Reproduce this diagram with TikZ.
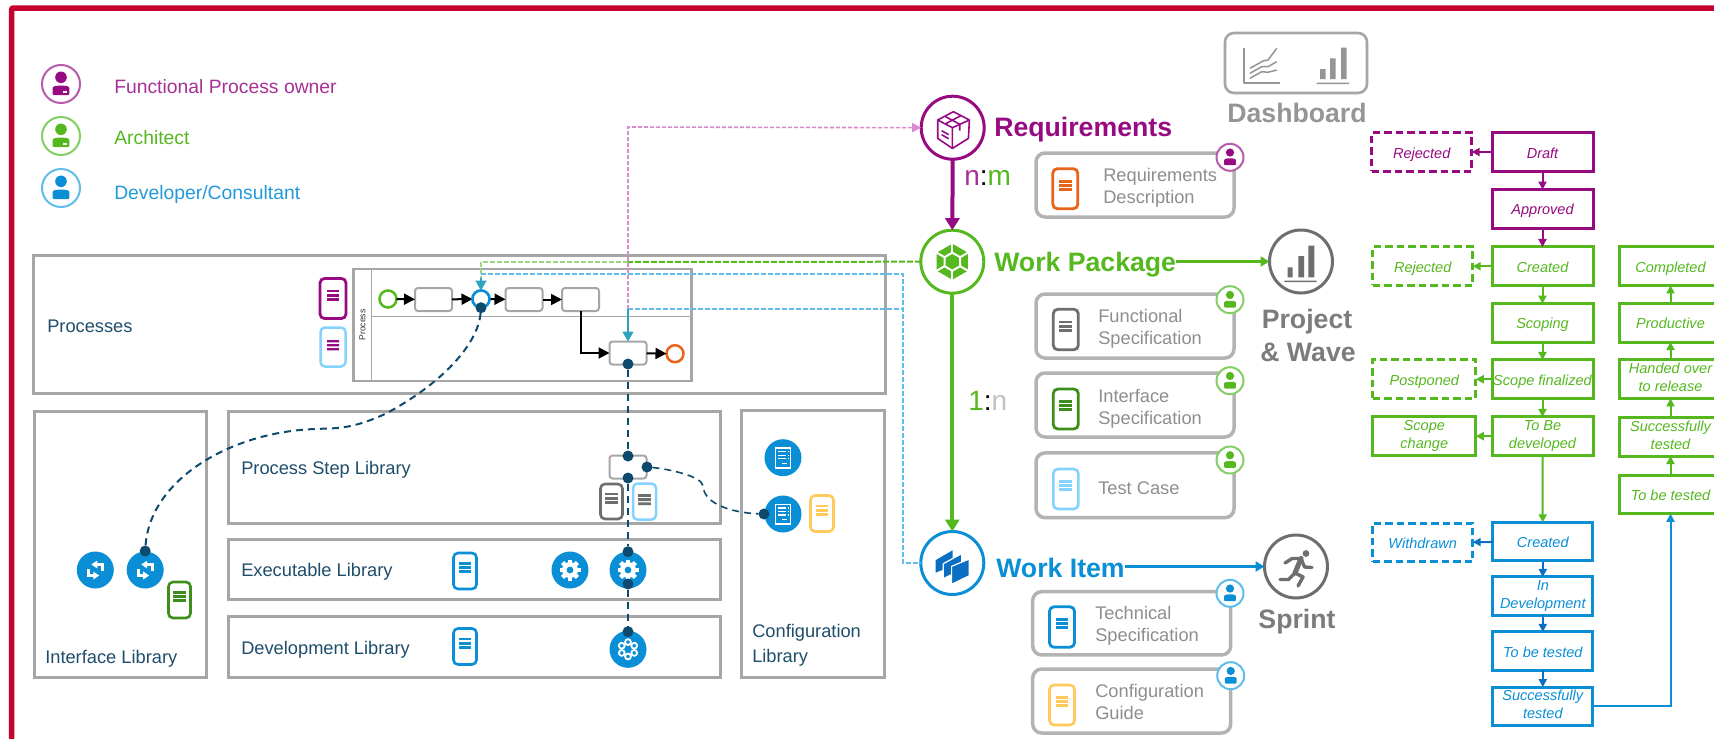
\documentclass[tikz,border=0pt]{standalone}
\usepackage{fontspec}
\setmainfont{Liberation Sans}
\usetikzlibrary{arrows.meta,calc}
\definecolor{fr}{HTML}{C4002E}
\definecolor{pu}{HTML}{960B82}
\definecolor{pul}{HTML}{B85BAA}
\definecolor{gr}{HTML}{55B81F}
\definecolor{grl}{HTML}{83CF63}
\definecolor{grd}{HTML}{3E8E1C}
\definecolor{bl}{HTML}{0A8FD6}
\definecolor{bll}{HTML}{5FBCEB}
\definecolor{bld}{HTML}{0A6FC2}
\definecolor{ltb}{HTML}{85D2FF}
\definecolor{org}{HTML}{E8641B}
\definecolor{yel}{HTML}{FFC95C}
\definecolor{gy}{HTML}{A6A6A6}
\definecolor{gyd}{HTML}{6E6E6E}
\definecolor{txg}{HTML}{8E8E8E}
\definecolor{dk}{HTML}{0E4A6E}
\definecolor{tl}{HTML}{2CA3BF}
\definecolor{pk}{HTML}{D88CCF}
\definecolor{lbl}{HTML}{1F4E6B}
\def\p#1{#1*0.75pt}
\tikzset{
  box/.style={draw=gy,line width=\p{3},minimum width=\p{#1},outer sep=0pt,inner sep=0pt},
  card/.style={draw=gy!85,line width=\p{3.5},rounded corners=\p{9},minimum width=\p{198},outer sep=0pt,inner sep=0pt},
  lab/.style={anchor=west,inner sep=0pt,text=lbl,font=\fontsize{13.7}{19}\selectfont,align=left},
  leg/.style={anchor=west,inner sep=0pt,font=\fontsize{14.5}{18}\selectfont},
  ctxt/.style={anchor=west,inner sep=0pt,text=txg,font=\fontsize{13.7}{16.2}\selectfont,align=left},
  head/.style={anchor=west,inner sep=0pt,font=\fontsize{20}{24}\bfseries\selectfont},
  gyhead/.style={inner sep=0pt,font=\fontsize{20}{24}\bfseries\selectfont,text=gyd!90},
  ring/.style={circle,draw=#1,fill=white,line width=\p{3},minimum size=\p{63},inner sep=0pt,outer sep=0pt},
  st/.style={draw=#1,line width=\p{3},minimum width=\p{101},minimum height=\p{38.5},inner sep=0pt,outer sep=0pt,
     text=#1,font=\fontsize{10.9}{13.5}\itshape\selectfont,align=center,
     execute at begin node={\rule[-3pt]{0pt}{15pt}}},
  dsh/.style={dash pattern=on \p{7.5} off \p{4}},
  arr/.style={draw=#1,line width=\p{2},-{Triangle[length=\p{8},width=\p{8},fill=#1]}},
  tsk/.style={draw=gy,fill=white,line width=\p{2},rounded corners=\p{3},minimum width=\p{37},minimum height=\p{23},inner sep=0pt,outer sep=0pt},
  evt/.style={circle,draw=#1,fill=white,line width=\p{2.5},minimum size=\p{17},inner sep=0pt,outer sep=0pt},
  flow/.style={draw=black,line width=\p{2},-{Triangle[length=\p{11},width=\p{11},fill=black]}},
  dot/.style={circle,fill=dk,minimum size=\p{11},inner sep=0pt,outer sep=0pt},
  blob/.style={circle,fill=bl,minimum size=\p{37},inner sep=0pt,outer sep=0pt},
  dlink/.style={draw=dk,line width=\p{2},dash pattern=on \p{7} off \p{5}},
  bld/.style={draw=bll,line width=\p{1.6},dash pattern=on \p{5} off \p{2}},
}
% doc icon: name,x,y,w,h,colour,linewidth
\newcommand\DocI[7]{%
  \node[draw=#6,fill=white,line width=\p{#7},rounded corners=\p{4.5},minimum width=\p{#4},minimum height=\p{#5},inner sep=0pt,outer sep=0pt] (#1) at (#2,#3) {};
  \begin{scope}[shift={(#2,#3)},#6]
    \fill[#6] (-6.4,-9) rectangle (6.4,-6.2);
    \fill[#6] (-6.4,-4.8) rectangle (6.4,-2);
    \fill[#6] (-6.4,-.6) rectangle (6.4,2.2);
  \end{scope}}
% person: name,x,y,r,ring,fill
\newcommand\PersonI[6]{%
  \node[circle,draw=#5,fill=white,line width=\p{2},minimum size=\p{2*#4},inner sep=0pt,outer sep=0pt] (#1) at (#2,#3) {};
  \begin{scope}[shift={(#2,#3)},scale=#4/19]
    \fill[#6] (0,-6.7) circle (5.8);
    \fill[#6,rounded corners=\p{1}] (-8.3,11) -- (-8.3,5) .. controls (-8.3,2) and (-4,1.5) .. (0,1.5) .. controls (4,1.5) and (8.3,2) .. (8.3,5) -- (8.3,11) -- cycle;
  \end{scope}}
\newcommand\GearI[1]{%
  \begin{scope}[shift={(#1)}]
    \foreach \a in {0,45,...,315}{\fill[white,rotate=\a] (-2.2,-10.5) rectangle (2.2,-6);}
    \fill[white] (0,0) circle (8);
    \fill[bl] (0,0) circle (3.4);
  \end{scope}}
\newcommand\SyncI[1]{%
  \begin{scope}[shift={(#1)},white,line width=\p{2.6}]
    \draw[-{Triangle[length=\p{6},width=\p{7.5},fill=white]}] (7,1) -- (7,-5.5) -- (-4,-5.5);
    \draw[-{Triangle[length=\p{6},width=\p{7.5},fill=white]}] (-7,-1) -- (-7,5.5) -- (4,5.5);
  \end{scope}}
\newcommand\CfgI[1]{%
  \begin{scope}[shift={(#1)},white]
    \draw[white,line width=\p{1.6}] (-7.5,-9.5) rectangle (7.5,10);
    \draw[white,line width=\p{1.3}] (-5,-6) -- (3,-6) (4.5,-6)--(5.5,-6) (-5,-2.5) -- (3,-2.5) (4.5,-2.5)--(5.5,-2.5) (-5,1) -- (3,1) (4.5,1)--(5.5,1) (-1,5.5)--(4,5.5);
  \end{scope}}
\begin{document}
\begin{tikzpicture}[x=0.75pt,y=-0.75pt]
\useasboundingbox (0,0) rectangle (1714,739);
\clip (0,0) rectangle (1714,739);
\fill[white] (0,0) rectangle (1714,739);
% frame
\coordinate (frA) at (11.5,745);
\coordinate (frB) at (11.5,8);
\coordinate (frC) at (1720,8);
\draw[fr,line width=\p{5.5},rounded corners=\p{2}] (frA) -- (frB) -- (frC);
% legend
\PersonI{lgP}{61}{84}{19}{pul}{pu}
\fill[white] (63,90.5) rectangle (67,92.5);
\PersonI{lgA}{61}{136}{19}{grl}{gr}
\fill[white] (63,142.5) rectangle (67,144.5);
\PersonI{lgD}{61}{188}{19}{bll}{bl}
\node[leg,text=pu!85] (tP) at (114,87) {Functional Process owner};
\node[leg,text=gr] (tA) at (114,138) {Architect};
\node[leg,text=bl!90] (tD) at (114,194) {Developer/Consultant};
% library boxes
\node[box=852,minimum height=\p{138}] (procB) at (459,324.5) {};
\node[box=172,minimum height=\p{266}] (ifB) at (120.5,544) {};
\node[box=492,minimum height=\p{112}] (stepB) at (474,467) {};
\node[box=492,minimum height=\p{60}] (exeB) at (474,569) {};
\node[box=492,minimum height=\p{61}] (devB) at (474,646.5) {};
\node[box=143,minimum height=\p{267}] (cfgB) at (812.5,543.5) {};
\node[lab] (tProc) at (47,326) {Processes};
\node[lab] (tIf) at (45,659) {Interface Library};
\node[lab] (tStep) at (241,470) {Process Step Library};
\node[lab] (tExe) at (241,572) {Executable Library};
\node[lab] (tDev) at (241,650) {Development Library};
\node[lab] (tCfg) at (752,645.5) {Configuration\\Library};
% process pool
\node[draw=gy,line width=\p{2.5},minimum width=\p{338},minimum height=\p{112},inner sep=0pt,outer sep=0pt] (pool) at (522.5,325) {};
\coordinate (hdT) at (371.4,269);
\coordinate (hdB) at (371.4,381);
\coordinate (lnL) at (371.4,316.7);
\coordinate (lnR) at (691.4,316.7);
\draw[gy,line width=\p{1.6}] (hdT) -- (hdB);
\draw[gy,line width=\p{1.2}] (lnL) -- (lnR);
\node[rotate=90,inner sep=0pt,font=\fontsize{6.5}{8}\selectfont,text=black!80] (tPool) at (362.5,325) {Process};
\DocI{dP1}{333}{298.5}{26}{40}{pu}{2.8}
\DocI{dP2}{333}{347}{25}{39}{ltb}{2.5}
\fill[white] (326,338) rectangle (340,352);
\fill[pu] (327,340) rectangle (339,342.4) (327,344) rectangle (339,346.4) (327,348) rectangle (339,350.4);
% colored dashed links
\coordinate (gA) at (628,262);
\coordinate (gB) at (481,262);
\coordinate (bA) at (481,274);
\coordinate (bB) at (903,274);
\coordinate (bC) at (903,563);
\coordinate (bD) at (628,309);
\coordinate (bE) at (903,309);
\coordinate (pkC) at (628,127);
\node[ring=pu] (req) at (952.7,127.7) {};
\node[ring=gr] (wp) at (952.3,261.7) {};
\node[ring=bl] (wi) at (952.3,563) {};
\draw[draw=grl!80,line width=\p{2},dash pattern=on \p{5} off \p{2}] (gA) -- (gB) -- ++(0,24);
\draw[gr,line width=\p{2},dash pattern=on \p{6} off \p{2}] (wp.west) -- (gA);
\draw[bld] (bA) -- (bB) -- (bC) -- (wi.west);
\draw[bld] (bD) -- (bE);
% process flow
\node[evt=gr] (ev0) at (388,299) {};
\node[tsk] (t1) at (433.5,299.5) {};
\node[evt=bl] (ev1) at (481,299) {};
\node[tsk] (t2) at (524,299.5) {};
\node[tsk] (t3) at (580.5,299.5) {};
\node[tsk] (t4) at (628,353) {};
\node[evt=org] (ev2) at (675,353.7) {};
\draw[flow] (ev0) -- (t1);
\draw[flow] (t1) -- (ev1);
\draw[flow] (ev1) -- (t2);
\draw[flow] (t2) -- (t3);
\draw[flow] (t3.south) |- (t4.west);
\draw[flow] (t4) -- (ev2);
\node[evt=bl] (ev1b) at (481,299) {};
\draw[pk,line width=\p{1.6},dash pattern=on \p{4} off \p{2},-{Triangle[length=\p{9},width=\p{9},fill=pk]}] (628,309) -- (pkC) -- (req.west);
\draw[tl,line width=\p{1.6},-{Triangle[length=\p{10},width=\p{11},fill=tl]}] (bD) -- (t4.north);
\coordinate (tlB) at (481,278);
\draw[tl,line width=\p{1.6},-{Triangle[length=\p{10},width=\p{11},fill=tl]}] (tlB) -- (ev1.north);
% libraries content
\node[tsk] (s1) at (628,467) {};
\DocI{dS1}{611.5}{501.5}{22}{35}{gyd}{2.6}
\DocI{dS2}{644.5}{501.5}{23}{36}{ltb}{2.5}
\fill[white] (638,492) rectangle (651,507);
\fill[gyd] (638.2,494) rectangle (650.8,496.8) (638.2,498.2) rectangle (650.8,501) (638.2,502.4) rectangle (650.8,505.2);
\DocI{dE}{465}{571}{23}{36}{bl}{2.6}
\DocI{dD}{465}{646.5}{23}{36}{bl}{2.6}
\DocI{dI}{179.5}{600}{22}{36}{grd}{2.6}
\DocI{dC}{822}{513.5}{23}{36}{yel}{2.6}
\node[blob] (ifA) at (95.3,570) {};
\node[blob] (ifC) at (145.2,570) {};
\SyncI{95.3,570}
\SyncI{145.2,570}
\node[blob] (ge1) at (570,570) {};
\node[blob] (ge2) at (628,570) {};
\GearI{570,570}
\GearI{628,570}
\node[blob] (de1) at (628,649.3) {};
\begin{scope}[shift={(628,649.3)}]
  \foreach \a in {0,60,...,300}{\draw[white,line width=\p{1.8}] (\a+90:7.2) circle (2.9);}
\end{scope}
\node[blob] (cf1) at (783,457.7) {};
\node[blob] (cf2) at (783,514) {};
\CfgI{783,457.7}
\CfgI{783,514}
% dark dashed links
\node[dot] (d1) at (481,307.7) {};
\node[dot] (d2) at (145.2,551) {};
\node[dot] (d3) at (628,364) {};
\node[dot] (d4) at (628,456) {};
\node[dot] (d5) at (628,478) {};
\node[dot] (d6) at (647,467) {};
\node[dot] (d7) at (628,551.7) {};
\node[dot] (d8) at (628,584) {};
\node[dot] (d9) at (628,631.7) {};
\node[dot] (d10) at (764,514) {};
\coordinate (c1) at (385,414);
\coordinate (c2) at (315,429);
\draw[dlink] (d1) .. controls (478,345) and (440,385) .. (c1) .. controls (350,430) and (335,428) .. (c2) .. controls (230,432) and (150,480) .. (d2);
\draw[dlink] (d3) -- (d4);
\draw[dlink,line width=\p{1.6}] (d5) -- (d7);
\draw[dlink,line width=\p{1.6}] (d8) -- (d9);
\coordinate (c3) at (703,486);
\draw[dlink,line width=\p{1.6}] (d6) .. controls (668,469) and (702,476) .. (c3) .. controls (704,505) and (735,513) .. (d10);
% main arrows
\draw[pu,line width=\p{4},-{Triangle[length=\p{12},width=\p{14},fill=pu]}] (req.south) -- (wp.north);
\draw[gr,line width=\p{4},-{Triangle[length=\p{12},width=\p{14},fill=gr]}] (wp.south) -- (wi.north);
\node[inner sep=0pt,anchor=west,font=\fontsize{21}{24}\selectfont] (nm) at (964,178) {\textcolor{pu!85}{n}\textcolor{black}{:}\textcolor{gr}{m}};
\node[inner sep=0pt,anchor=west,font=\fontsize{21}{24}\selectfont] (onen) at (968,401) {\textcolor{gr}{1}\textcolor{black}{:}\textcolor{gy!70}{n}};
% main icons
\begin{scope}[shift={(952.7,127.7)},pu,line width=\p{1.6},line join=round]
  \draw (-15,-7.7) -- (.7,-16) -- (16.7,-7.7) -- (15.7,10.7) -- (-.3,20.7) -- (-15,10.7) -- cycle;
  \draw (-15,-7.7) -- (-.3,0) -- (16.7,-7.7) (-.3,0) -- (-.3,20.7);
  \draw (-8,-11.5) -- (7,-3.5) -- (7,3) (8,-12) -- (-7,-4);
  \draw (-11,3) -- (-4,7) (-11,7) -- (-4,11);
\end{scope}
\begin{scope}[shift={(952.3,261.7)}]
  \fill[gr] (90:18) -- (30:18) -- (-30:18) -- (-90:18) -- (-150:18) -- (150:18) -- cycle;
  \draw[white,line width=\p{2}] (90:9) -- (30:9) -- (-30:9) -- (-90:9) -- (-150:9) -- (150:9) -- cycle;
  \foreach \a in {90,30,-30,-90,-150,150}{\draw[white,line width=\p{2}] (\a:9) -- (\a:19);}
\end{scope}
\begin{scope}[shift={(952.3,563)},draw=white,line width=\p{1.2},fill=bld]
  \filldraw (-17.3,-3.3) -- (1,-14) -- (1,3.3) -- (-17.3,10.7) -- cycle;
  \filldraw (-9,.7) -- (9.3,-9.3) -- (9.3,6.7) -- (-9,15.7) -- cycle;
  \filldraw (-.7,3.3) -- (17,-4) -- (17,12.7) -- (-.7,21.3) -- cycle;
\end{scope}
\node[head,text=pu] (tReq) at (994,130) {Requirements};
\node[head,text=gr] (tWp) at (994,265) {Work Package};
\node[head,text=bl] (tWi) at (996,567.5) {Work Item};
% project
\node[ring=gyd] (prj) at (1301,261.5) {};
\begin{scope}[shift={(1301,261)},gyd]
  \fill[gyd] (-13.3,6.3) rectangle (-8.3,16.3) (-2.7,-5) rectangle (3,16.3) (7.3,-15.3) rectangle (13.3,16.3) (-16.7,19.5) rectangle (15.7,21);
\end{scope}
\draw[gr,line width=\p{3},-{Triangle[length=\p{9},width=\p{10},fill=gr]}] (tWp.east |- prj.west) -- (prj.west);
\node[gyhead] (tPrj) at (1307,322) {Project};
\node[gyhead] (tWave) at (1308,352.7) {\& Wave};
% sprint
\node[ring=gyd] (spr) at (1296,566.5) {};
\begin{scope}[shift={(1296,566)},gyd,line width=\p{3.4},line cap=round,line join=round]
  \fill[gyd] (10,-12.5) circle (3.4);
  \draw[gyd,line width=\p{5}] (5,-7.5) -- (-1,7);
  \draw[gyd] (-11,-3) -- (-4,-7.5) -- (5,-7.5) -- (8.5,1) -- (16,1.5);
  \draw[gyd] (-1,7) -- (-7.5,13.5) -- (-16,13.5);
  \draw[gyd] (-1,7) -- (7,11) -- (2,20);
\end{scope}
\draw[bl,line width=\p{3},-{Triangle[length=\p{9},width=\p{10},fill=bl]}] (tWi.east |- spr.west) -- (spr.west);
\node[gyhead] (tSpr) at (1297,622) {Sprint};
% dashboard
\node[draw=gy,line width=\p{2.6},rounded corners=\p{9},minimum width=\p{142},minimum height=\p{60},inner sep=0pt,outer sep=0pt] (dash) at (1296,63) {};
\node[gyhead,text=gy!90!black] (tDash) at (1297,113) {Dashboard};
\begin{scope}[gy,line width=\p{1.5},line join=round]
  \draw[gy!90!black,line width=\p{1.8}] (1244,47.7) -- (1244,83.3) -- (1280,83.3);
  \draw[gy!90!black] (1250,68.3) -- (1263,61) -- (1268,60) -- (1276.7,48.3);
  \draw[gy!90!black] (1250,73.3) -- (1261.7,66.7) -- (1268,66.7) -- (1276.7,61.7);
  \draw[gy!90!black] (1250,78.3) -- (1261.7,71.7) -- (1268,72.3) -- (1276.7,70);
  \fill[gy!90!black] (1320,69) rectangle (1325.7,79) (1330,58.3) rectangle (1335.7,79) (1341,47.7) rectangle (1346.7,79) (1316.7,82.5) rectangle (1349,84);
\end{scope}
% cards
\node[card,minimum height=\p{64}] (cReq) at (1135,185) {};
\node[card,minimum height=\p{64}] (cFun) at (1135,326) {};
\node[card,minimum height=\p{64}] (cInt) at (1135,405) {};
\node[card,minimum height=\p{64.7}] (cTst) at (1135,485.3) {};
\node[card,minimum height=\p{63.3}] (cTec) at (1131.7,623.3) {};
\node[card,minimum height=\p{64}] (cGui) at (1131.7,701) {};
\DocI{dReq}{1065.3}{188.7}{25}{40}{org}{2.8}
\DocI{dFun}{1065.8}{329.5}{25}{40.5}{gyd}{2.8}
\DocI{dInt}{1065.8}{409}{25}{40}{grd}{2.8}
\DocI{dTst}{1065.8}{489}{25}{40}{ltb}{2.6}
\DocI{dTec}{1062}{627}{25}{40.5}{bl}{2.8}
\DocI{dGui}{1062}{705}{25}{40}{yel}{2.6}
\node[ctxt] (tcReq) at (1103,188) {Requirements\\Description};
\node[ctxt] (tcFun) at (1098,328.5) {Functional\\Specification};
\node[ctxt] (tcInt) at (1098,408.5) {Interface\\Specification};
\node[ctxt] (tcTst) at (1098,488) {Test Case};
\node[ctxt] (tcTec) at (1095,625.5) {Technical\\Specification};
\node[ctxt] (tcGui) at (1095,702) {Configuration\\Guide};
\PersonI{bReq}{1230}{157.3}{13.5}{pul}{pu}
\PersonI{bFun}{1230}{299.7}{13.5}{grl}{gr}
\PersonI{bInt}{1230}{380.7}{13.5}{grl}{gr}
\PersonI{bTst}{1230}{460}{13.5}{grl}{gr}
\PersonI{bTec}{1230}{593.3}{13.5}{bll}{bl}
\PersonI{bGui}{1230.7}{675.7}{13.5}{bll}{bl}
% states: purple
\node[st=pu] (sDraft) at (1542.5,152) {Draft};
\node[st=pu,dsh,minimum width=\p{100}] (sRej) at (1421.7,152) {Rejected};
\node[st=pu] (sAppr) at (1542.5,208.8) {Approved};
% green
\node[st=gr] (sCre) at (1542.5,266.2) {Created};
\node[st=gr,dsh,minimum width=\p{100}] (sRejG) at (1422.7,266.2) {Rejected};
\node[st=gr] (sSco) at (1542.5,322.8) {Scoping};
\node[st=gr] (sFin) at (1542.5,379.2) {Scope finalized};
\node[st=gr,dsh,minimum width=\p{103}] (sPost) at (1424.3,379.2) {Postponed};
\node[st=gr] (sDev) at (1542.5,436.2) {To Be\\developed};
\node[st=gr,minimum width=\p{103}] (sChg) at (1424.3,436.2) {Scope\\change};
\node[st=gr,minimum width=\p{103}] (sComp) at (1670.5,266.2) {Completed};
\node[st=gr,minimum width=\p{103}] (sProd) at (1670.5,322.8) {Productive};
\node[st=gr,minimum width=\p{103}] (sHand) at (1670.5,379.2) {Handed over\\to release};
\node[st=gr,minimum width=\p{103}] (sSuc) at (1670.5,436.8) {Successfully\\tested};
\node[st=gr,minimum width=\p{103}] (sTbt) at (1670.5,494.5) {To be tested};
% blue
\node[st=bl,minimum width=\p{100}] (bCre) at (1542.8,541.6) {Created};
\node[st=bl,dsh,minimum width=\p{100}] (bWit) at (1422.7,542.5) {Withdrawn};
\node[st=bl,minimum width=\p{100}] (bIn) at (1542.8,596.2) {In\\Development};
\node[st=bl,minimum width=\p{100}] (bTbt) at (1542.8,651.2) {To be tested};
\node[st=bl,minimum width=\p{100}] (bSuc) at (1542.8,706.3) {Successfully\\tested};
% state arrows
\draw[arr=pu] (sDraft) -- (sRej);
\draw[arr=pu] (sDraft) -- (sAppr);
\draw[arr=pu] (sAppr) -- (sCre);
\draw[arr=gr] (sCre) -- (sRejG);
\draw[arr=gr] (sCre) -- (sSco);
\draw[arr=gr] (sSco) -- (sFin);
\draw[arr=gr] (sFin) -- (sPost);
\draw[arr=gr] (sFin) -- (sDev);
\draw[arr=gr] (sDev) -- (sChg);
\draw[arr=gr] (sDev) -- (bCre);
\draw[arr=gr] (sTbt) -- (sSuc);
\draw[arr=gr] (sSuc) -- (sHand);
\draw[arr=gr] (sHand) -- (sProd);
\draw[arr=gr] (sProd) -- (sComp);
\draw[arr=bld] (bCre) -- (bWit);
\draw[arr=bld] (bCre) -- (bIn);
\draw[arr=bld] (bIn) -- (bTbt);
\draw[arr=bld] (bTbt) -- (bSuc);
\draw[arr=bl] (bSuc.east) -| (sTbt.south);
\end{tikzpicture}
\end{document}
